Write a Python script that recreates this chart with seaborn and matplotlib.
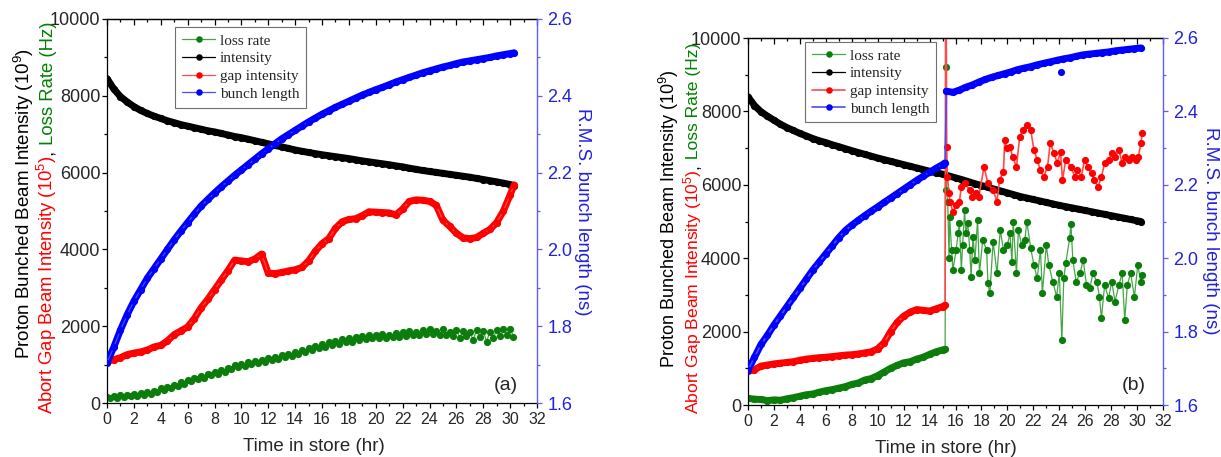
import matplotlib
matplotlib.use("Agg")
import matplotlib.pyplot as plt
from matplotlib.ticker import MultipleLocator, NullFormatter, FormatStrFormatter
from matplotlib.transforms import IdentityTransform
import seaborn as sns

# ---------------- panel (a) data ----------------
t_a = [0, 0.5, 1, 1.5, 2, 2.5, 3, 3.5, 4, 4.5, 5, 5.5, 6, 6.5, 7, 7.5, 8, 8.5, 9, 9.5,
       10, 10.5, 11, 11.5, 12, 12.5, 13, 13.5, 14, 14.5, 15, 15.5, 16, 16.5, 17, 17.5,
       18, 18.5, 19, 19.5, 20, 20.5, 21, 21.5, 22, 22.5, 23, 23.5, 24, 24.5, 25, 25.5,
       26, 26.5, 27, 27.5, 28, 28.5, 29, 29.5, 30, 30.3]
intensity_a = [8450, 8180, 7980, 7840, 7720, 7620, 7540, 7470, 7410, 7350,
               7300, 7250, 7210, 7170, 7130, 7090, 7060, 7020, 6980, 6940,
               6910, 6870, 6830, 6790, 6750, 6710, 6670, 6630, 6590, 6555,
               6525, 6495, 6465, 6440, 6415, 6390, 6365, 6335, 6305, 6280,
               6255, 6230, 6205, 6175, 6150, 6115, 6085, 6055, 6030, 6005,
               5980, 5955, 5930, 5905, 5880, 5850, 5820, 5790, 5760, 5725,
               5690, 5660]
bunch_a = [1.705, 1.745, 1.79, 1.83, 1.865, 1.895, 1.925, 1.95, 1.975, 2.0,
           2.025, 2.048, 2.07, 2.092, 2.113, 2.13, 2.147, 2.163, 2.178, 2.193,
           2.207, 2.221, 2.235, 2.249, 2.262, 2.275, 2.288, 2.299, 2.31, 2.321,
           2.332, 2.342, 2.352, 2.361, 2.37, 2.378, 2.386, 2.394, 2.402, 2.409,
           2.416, 2.422, 2.429, 2.436, 2.442, 2.448, 2.454, 2.46, 2.465, 2.47,
           2.475, 2.479, 2.484, 2.488, 2.491, 2.494, 2.497, 2.5, 2.504, 2.507,
           2.51, 2.512]
gap_a = [1080, 1130, 1180, 1260, 1300, 1330, 1380, 1460, 1500, 1620,
         1780, 1880, 1980, 2200, 2480, 2700, 2950, 3200, 3450, 3720,
         3700, 3680, 3750, 3880, 3380, 3370, 3400, 3440, 3470, 3530,
         3700, 3950, 4150, 4280, 4550, 4720, 4780, 4800, 4880, 4980,
         4970, 4960, 4950, 4900, 5050, 5250, 5290, 5280, 5250, 5150,
         4760, 4600, 4420, 4300, 4280, 4310, 4420, 4520, 4700, 5000,
         5420, 5680]
t_loss_a = [0, 0.25, 0.5, 0.75, 1, 1.25, 1.5, 1.75, 2, 2.25, 2.5, 2.75, 3, 3.25, 3.5, 3.75,
            4, 4.25, 4.5, 4.75, 5, 5.25, 5.5, 5.75, 6, 6.25, 6.5, 6.75, 7, 7.25, 7.5, 7.75,
            8, 8.25, 8.5, 8.75, 9, 9.25, 9.5, 9.75, 10, 10.25, 10.5, 10.75, 11, 11.25, 11.5, 11.75,
            12, 12.25, 12.5, 12.75, 13, 13.25, 13.5, 13.75, 14, 14.25, 14.5, 14.75, 15, 15.25, 15.5, 15.75,
            16, 16.25, 16.5, 16.75, 17, 17.25, 17.5, 17.75, 18, 18.25, 18.5, 18.75, 19, 19.25, 19.5, 19.75,
            20, 20.25, 20.5, 20.75, 21, 21.25, 21.5, 21.75, 22, 22.25, 22.5, 22.75, 23, 23.25, 23.5, 23.75,
            24, 24.25, 24.5, 24.75, 25, 25.25, 25.5, 25.75, 26, 26.25, 26.5, 26.75, 27, 27.25, 27.5, 27.75,
            28, 28.25, 28.5, 28.75, 29, 29.25, 29.5, 29.75, 30, 30.25]
loss_a = [160, 120, 180, 140, 200, 150, 210, 170,
          240, 190, 260, 220, 280, 240, 320, 290,
          380, 330, 420, 400, 470, 440, 540, 500,
          600, 560, 650, 620, 700, 660, 760, 720,
          800, 760, 860, 820, 920, 880, 980, 940,
          1020, 970, 1060, 1010, 1090, 1050, 1120, 1080,
          1160, 1110, 1200, 1150, 1240, 1190, 1280, 1230,
          1320, 1270, 1380, 1330, 1420, 1390, 1480, 1430,
          1540, 1470, 1580, 1520, 1620, 1540, 1660, 1580,
          1700, 1600, 1720, 1640, 1740, 1660, 1780, 1680,
          1760, 1690, 1800, 1700, 1780, 1710, 1820, 1720,
          1850, 1740, 1880, 1760, 1860, 1780, 1900, 1790,
          1940, 1800, 1880, 1760, 1920, 1780, 1860, 1740,
          1900, 1700, 1880, 1740, 1850, 1640, 1900, 1720,
          1880, 1600, 1860, 1700, 1900, 1740, 1920, 1760,
          1940, 1720]

# ---------------- panel (b) data ----------------
t_b = t_a
intensity_b = [8400, 8160, 7990, 7870, 7760, 7650, 7560, 7480, 7400, 7330,
               7260, 7200, 7150, 7090, 7040, 6985, 6930, 6880, 6830, 6780,
               6730, 6685, 6640, 6595, 6550, 6505, 6460, 6415, 6370, 6330,
               6290, 6240, 6190, 6140, 6085, 6030, 5980, 5930, 5880, 5830,
               5780, 5730, 5680, 5640, 5600, 5560, 5520, 5480, 5440, 5405,
               5370, 5335, 5300, 5265, 5230, 5195, 5160, 5125, 5090, 5055,
               5020, 5000]
t_b_pre = [0, 0.5, 1, 1.5, 2, 2.5, 3, 3.5, 4, 4.5, 5, 5.5, 6, 6.5, 7, 7.5, 8, 8.5, 9, 9.5,
           10, 10.5, 11, 11.5, 12, 12.5, 13, 13.5, 14, 14.5, 15, 15.2]
bunch_b_pre = [1.695, 1.73, 1.765, 1.79, 1.818, 1.843, 1.868, 1.893, 1.918, 1.943,
               1.968, 1.99, 2.012, 2.034, 2.056, 2.075, 2.09, 2.103, 2.116, 2.128,
               2.14, 2.152, 2.164, 2.176, 2.188, 2.2, 2.212, 2.223, 2.234, 2.245,
               2.255, 2.26]
gap_b_pre = [920, 960, 1060, 1090, 1120, 1140, 1160, 1180, 1220, 1250,
             1270, 1290, 1300, 1320, 1340, 1360, 1370, 1390, 1420, 1450,
             1530, 1700, 2000, 2250, 2420, 2530, 2600, 2580, 2560, 2620,
             2680, 2720]
loss_b_pre = [180, 160, 150, 120, 140, 130, 170, 200, 240, 280,
              300, 350, 390, 420, 460, 500, 560, 600, 680, 720,
              800, 900, 1000, 1080, 1150, 1180, 1250, 1300, 1380, 1450,
              1500, 1520]
t_bunch_b_post = [15.3, 15.8, 16.3, 16.8, 17.3, 17.8, 18.3, 18.8, 19.3, 19.8, 20.3,
                  20.8, 21.3, 21.8, 22.3, 22.8, 23.3, 23.8, 24.3, 24.8, 25.3, 25.8,
                  26.3, 26.8, 27.3, 27.8, 28.3, 28.8, 29.3, 29.8, 30.3]
bunch_b_post = [2.455, 2.452, 2.458, 2.466, 2.472, 2.48, 2.487, 2.493, 2.498, 2.503,
                2.508, 2.514, 2.518, 2.522, 2.527, 2.531, 2.535, 2.539, 2.543, 2.546,
                2.55, 2.554, 2.556, 2.558, 2.56, 2.562, 2.565, 2.567, 2.569, 2.571,
                2.573]
t_bunch_b_outlier = [24.1]
bunch_b_outlier = [2.508]
t_gap_b_post = [15.25, 15.32, 15.37, 15.5, 15.57, 15.8, 16.05, 16.3, 16.45, 16.7,
                17.1, 17.3, 17.6, 17.8, 18.2, 18.5, 18.9, 19.2, 19.4, 19.7,
                19.8, 19.95, 20.2, 20.4, 20.7, 20.95, 21.2, 21.5, 21.8, 22.05,
                22.3, 22.55, 22.8, 23.1, 23.3, 23.6, 23.85, 24.1, 24.25, 24.5,
                24.9, 25.2, 25.4, 25.7, 25.95, 26.2, 26.5, 26.7, 27.0, 27.25,
                27.5, 27.8, 28.05, 28.3, 28.6, 28.85, 29.1, 29.4, 29.6, 29.9,
                30.1, 30.3, 30.4]
gap_b_post = [14000, 7040, 6220, 5770, 5540, 5270, 5450, 5540, 5950, 6040,
              5860, 5680, 5770, 5680, 6490, 6040, 5860, 5540, 6130, 6360,
              7220, 7000, 7040, 6770, 6490, 7310, 7490, 7630, 7490, 6950,
              6680, 6400, 6220, 6490, 7130, 6860, 6590, 6900, 6130, 6680,
              6490, 6220, 6400, 6220, 6680, 6490, 6310, 6130, 5950, 6220,
              6590, 6680, 6860, 6770, 6950, 6590, 6770, 6680, 6770, 6680,
              6770, 7130, 7400]
t_loss_b_post = [15.25, 15.3, 15.4, 15.5, 15.55, 15.7, 15.8, 16.05, 16.2, 16.3,
                 16.45, 16.55, 16.7, 16.8, 16.95, 17.1, 17.2, 17.35, 17.5, 17.7,
                 17.85, 18.1, 18.4, 18.5, 18.65, 18.9, 19.2, 19.45, 19.7, 20.0,
                 20.2, 20.35, 20.45, 20.7, 20.85, 21.1, 21.35, 21.5, 21.8, 22.05,
                 22.3, 22.55, 22.7, 23.0, 23.2, 23.5, 23.8, 24.0, 24.2, 24.35,
                 24.5, 24.8, 24.9, 25.05, 25.3, 25.6, 25.85, 26.1, 26.35, 26.6,
                 26.9, 27.1, 27.25, 27.5, 27.8, 28.05, 28.3, 28.6, 28.85, 29.05,
                 29.25, 29.5, 29.8, 30.05, 30.3, 30.4]
loss_b_post = [9200, 5860, 5540, 4000, 5130, 4220, 3680, 4220, 4680, 4950,
               3680, 4360, 5310, 4680, 4950, 4220, 3500, 4590, 3950, 5040,
               3590, 4500, 4220, 3320, 3040, 4450, 3590, 4770, 4220, 4360,
               4680, 3900, 5000, 3590, 4770, 4360, 4500, 5000, 4270, 3810,
               3450, 4220, 3040, 4360, 3810, 3360, 2950, 3590, 1770, 3450,
               3860, 4540, 4930, 3950, 3360, 3590, 3950, 3270, 3180, 3590,
               3360, 2950, 2360, 3270, 2910, 3360, 2820, 3270, 3590, 2320,
               3270, 3590, 2950, 3810, 3360, 3540]

legend_labels = ["loss rate", "intensity", "gap intensity", "bunch length"]
xlabel_text = "Time in store (hr)"
ylabel_black = "Proton Bunched Beam Intensity (10$^9$)"
ylabel_red = "Abort Gap Beam Intensity (10$^5$)"
ylabel_green = " Loss Rate (Hz)"
ylabel_right = "R.M.S. bunch length (ns)"

# ---------------- style ----------------
sns.set_style("ticks")
plt.rcParams["font.family"] = ["Liberation Sans", "DejaVu Sans"]
plt.rcParams["mathtext.default"] = "regular"

C_GREEN, C_GREEN_L = "#0b7d0b", "#45a645"
C_RED, C_RED_L = "#ff0000", "#ff4a4a"
C_BLUE, C_BLUE_L = "#0000ff", "#4a4aff"
C_BLACK = "#000000"
C_AXBLUE, C_TXTBLUE = "#5c5cff", "#2222dd"
C_TXTGREEN = "#008000"

W, H = 1221, 457
fig = plt.figure(figsize=(W / 100, H / 100), dpi=100)


def px_axes(l, t, r, b):
    return fig.add_axes([l / W, 1 - b / H, (r - l) / W, (b - t) / H])


axA = px_axes(107, 19, 537, 403)
axB = px_axes(748, 38, 1163, 405)
twA = axA.twinx()
twB = axB.twinx()

MS, BAND, THIN = 5.2, 5.0, 0.9


def band(ax, t, v, color):
    sns.lineplot(x=t, y=v, ax=ax, color=color, linewidth=BAND, solid_capstyle="round",
                 legend=False, estimator=None, sort=False)


def dots(ax, t, v, color, lcolor, label=None, lw=THIN):
    sns.lineplot(x=t, y=v, ax=ax, color=lcolor, linewidth=lw, marker="o", markersize=MS,
                 markerfacecolor=color, markeredgecolor=color, markeredgewidth=0,
                 label=label, legend=False, estimator=None, sort=False)


# panel (a)
dots(axA, t_loss_a, loss_a, C_GREEN, C_GREEN_L, legend_labels[0])
band(axA, t_a, intensity_a, C_BLACK)
dots(axA, t_a, intensity_a, C_BLACK, C_BLACK, legend_labels[1])
band(axA, t_a, gap_a, C_RED)
dots(axA, t_a, gap_a, C_RED, C_RED_L, legend_labels[2])
band(twA, t_a, bunch_a, C_BLUE)
dots(twA, t_a, bunch_a, C_BLUE, C_BLUE_L, legend_labels[3])

# panel (b)
band(axB, t_b_pre, loss_b_pre, C_GREEN)
dots(axB, t_b_pre + t_loss_b_post, loss_b_pre + loss_b_post, C_GREEN, C_GREEN_L, legend_labels[0])
band(axB, t_b, intensity_b, C_BLACK)
dots(axB, t_b, intensity_b, C_BLACK, C_BLACK, legend_labels[1])
band(axB, t_b_pre, gap_b_pre, C_RED)
dots(axB, t_b_pre + t_gap_b_post, gap_b_pre + gap_b_post, C_RED, C_RED_L, legend_labels[2], lw=1.2)
band(twB, t_b_pre, bunch_b_pre, C_BLUE)
band(twB, t_bunch_b_post, bunch_b_post, C_BLUE)
dots(twB, t_b_pre + t_bunch_b_post, bunch_b_pre + bunch_b_post, C_BLUE, C_BLUE_L, legend_labels[3], lw=1.2)
sns.scatterplot(x=t_bunch_b_outlier, y=bunch_b_outlier, ax=twB, color=C_BLUE, s=26,
                linewidth=0, legend=False)


def style(ax, tw):
    ax.set_xlim(0, 32)
    ax.set_ylim(0, 10000)
    ax.xaxis.set_major_locator(MultipleLocator(2))
    ax.xaxis.set_minor_locator(MultipleLocator(1))
    ax.yaxis.set_major_locator(MultipleLocator(2000))
    ax.yaxis.set_minor_locator(MultipleLocator(1000))
    ax.tick_params(which="both", direction="out", color="black", width=0.9,
                   top=False, right=False)
    ax.tick_params(which="major", length=3.6)
    ax.tick_params(which="minor", length=2.2)
    ax.tick_params(axis="x", labelsize=11.5, pad=3.2)
    ax.tick_params(axis="y", labelsize=13, pad=1.2)
    ax.set_ylabel("")
    for s in ["left", "bottom", "top"]:
        ax.spines[s].set_color("black")
        ax.spines[s].set_linewidth(0.9)
    ax.spines["right"].set_visible(False)
    sec = ax.secondary_xaxis("top")
    sec.xaxis.set_major_locator(MultipleLocator(2))
    sec.xaxis.set_minor_locator(MultipleLocator(1))
    sec.xaxis.set_major_formatter(NullFormatter())
    sec.tick_params(which="both", direction="in", width=0.9, color="black")
    sec.tick_params(which="major", length=4.3)
    sec.tick_params(which="minor", length=2.2)
    sec.spines["top"].set_linewidth(0.9)

    tw.set_ylim(1.6, 2.6)
    tw.yaxis.set_major_locator(MultipleLocator(0.2))
    tw.yaxis.set_minor_locator(MultipleLocator(0.1))
    tw.yaxis.set_major_formatter(FormatStrFormatter("%.1f"))
    tw.tick_params(axis="y", which="both", direction="out", color=C_AXBLUE,
                   labelcolor=C_TXTBLUE, labelsize=13, pad=4, width=0.9)
    tw.tick_params(which="major", length=3.6)
    tw.tick_params(which="minor", length=2.2)
    tw.set_ylabel("")
    for s in ["top", "bottom", "left"]:
        tw.spines[s].set_visible(False)
    tw.spines["right"].set_color(C_AXBLUE)
    tw.spines["right"].set_linewidth(1.0)


style(axA, twA)
style(axB, twB)

axA.set_xlabel(xlabel_text, fontsize=13.5)
axA.xaxis.set_label_coords(0.481, -0.091)
axB.set_xlabel(xlabel_text, fontsize=13.5)
axB.xaxis.set_label_coords(0.477, -0.095)


def make_legend(ax, tw, anchor):
    h1, l1 = ax.get_legend_handles_labels()
    h2, l2 = tw.get_legend_handles_labels()
    leg = tw.legend(h1 + h2, l1 + l2, loc="upper left", bbox_to_anchor=anchor,
                    bbox_transform=tw.transAxes, borderaxespad=0, frameon=True,
                    fancybox=False, edgecolor="#707070", framealpha=1,
                    prop={"family": "Liberation Serif", "size": 11},
                    borderpad=0.45, labelspacing=0.26, handlelength=2.2,
                    handletextpad=0.3, markerscale=0.9)
    leg.get_frame().set_linewidth(0.8)


make_legend(axA, twA, (0.158, 0.979))
make_legend(axB, twB, (0.137, 0.989))

renderer = fig.canvas.get_renderer()


def vlabel(x_base, y_center_top, pieces, size):
    arts = []
    for s, c in pieces:
        arts.append(fig.text(0, 0, s, color=c, fontsize=size, rotation=90,
                             rotation_mode="anchor", ha="left", va="baseline",
                             transform=IdentityTransform()))
    lens = [a.get_window_extent(renderer).height for a in arts]
    y = (H - y_center_top) - sum(lens) / 2
    for a, L in zip(arts, lens):
        a.set_position((x_base, y))
        y += L


vlabel(30, 203, [(ylabel_black, "black")], 13.5)
vlabel(53, 218, [(ylabel_red, C_RED), (",", "black"), (ylabel_green, C_TXTGREEN)], 13.3)
vlabel(675, 219, [(ylabel_black, "black")], 13)
vlabel(698, 228, [(ylabel_red, C_RED), (",", "black"), (ylabel_green, C_TXTGREEN)], 12.6)

fig.text(583, H - 212, ylabel_right, rotation=270, ha="center", va="center",
         color=C_TXTBLUE, fontsize=13.5, transform=IdentityTransform())
fig.text(1210, H - 231, ylabel_right, rotation=270, ha="center", va="center",
         color=C_TXTBLUE, fontsize=13.5, transform=IdentityTransform())

fig.text(506, H - 385, "(a)", ha="center", va="center", fontsize=14,
         transform=IdentityTransform())
fig.text(1134, H - 385, "(b)", ha="center", va="center", fontsize=14,
         transform=IdentityTransform())

fig.savefig("out.png", dpi=100)
